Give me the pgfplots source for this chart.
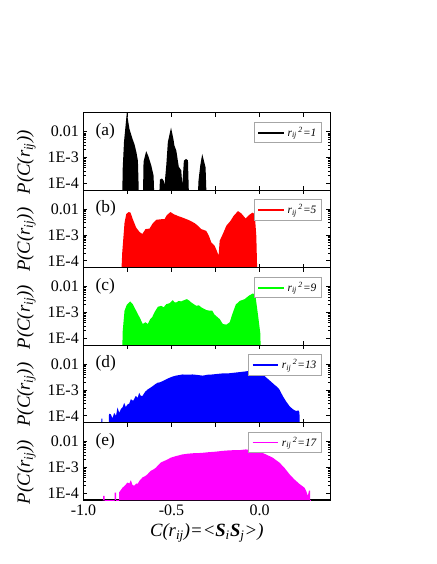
\documentclass[border=0pt]{standalone}
\usepackage{fontspec}
\setmainfont{Liberation Serif}
\usepackage{pgfplots}
\pgfplotsset{compat=1.18}
\definecolor{pmag}{RGB}{255,0,255}
\definecolor{pgreen}{RGB}{0,255,0}
\definecolor{pblue}{RGB}{0,0,255}
\definecolor{pred}{RGB}{255,0,0}
\pgfplotsset{
  legend image code/.code={\draw[#1, line width=1.4pt] (0cm,0cm) -- (0.68cm,0cm);},
  every axis/.append style={
    scale only axis, width=185pt, height=58.1pt,
    xmin=-1, xmax=0.4,
    ymin=5.5e-5, ymax=5.5e-2,
    xtick={-1,-0.75,-0.5,-0.25,0,0.25},
    ytick={1e-4,1e-3,1e-2},
    yticklabels={1E-4,1E-3,0.01},
    tick align=inside,
    major tick length=3pt, minor tick length=1.8pt,
    axis line style={line width=0.8pt},
    tick style={black, line width=0.6pt},
    tick label style={font=\fontsize{12}{14}\selectfont},
  },
  every axis legend/.append style={at={(axis description cs:0.968,0.88)}, anchor=north east,
      draw=gray!70, line width=0.8pt, inner xsep=2pt, inner ysep=1.5pt,
      font=\fontsize{8.5}{10}\selectfont\itshape},
  myylab/.style={every axis y label/.style={at={(axis description cs:-0.232,0.36)}, rotate=90, anchor=center, font=\fontsize{14}{16}\selectfont}},
}
\tikzset{plabel/.style={anchor=west, font=\fontsize{13}{15}\selectfont}}
\begin{document}
\begin{tikzpicture}
\path[use as bounding box] (0,0) rectangle (327pt,423pt);

% (a)
\begin{axis}[ymode=log, log origin y=infty, anchor=north west, at={(62.6pt,338.5pt)},
  xticklabels={}, myylab, ylabel={\itshape P(C(r\textsubscript{ij}))}]
\addplot[fill=black, draw=none, forget plot] table {
x y
-0.781 1e-6
-0.778 3e-4
-0.770 4e-3
-0.754 5.5e-2
-0.739 1.29e-2
-0.722 5.4e-3
-0.710 3.2e-3
-0.699 1.55e-3
-0.691 7.6e-4
-0.679 1e-6
-0.666 1e-6
-0.659 6.9e-4
-0.644 1.78e-3
-0.631 1.1e-3
-0.615 4.9e-4
-0.602 2.0e-4
-0.591 1e-6
-0.580 1e-6
-0.566 1.4e-4
-0.555 1.55e-4
-0.545 1.3e-4
-0.540 8.5e-5
-0.530 5e-4
-0.521 4e-3
-0.503 1.45e-2
-0.489 5e-3
-0.484 2.95e-3
-0.473 1.86e-3
-0.459 4.4e-4
-0.445 3.2e-4
-0.439 8.5e-5
-0.430 7.6e-4
-0.418 8.9e-4
-0.407 7.8e-4
-0.395 1e-6
-0.361 1e-6
-0.347 1.3e-4
-0.337 5e-4
-0.326 1.38e-3
-0.307 4.2e-4
-0.294 1e-6
} \closedcycle;
\addlegendimage{black}
\addlegendentry{r\textsubscript{ij}\textsuperscript{\,2}=1}
\node[plabel] at (rel axis cs:0.03,0.76) {(a)};
\end{axis}

% (b)
\begin{axis}[ymode=log, log origin y=infty, anchor=north west, at={(62.6pt,280.4pt)},
  xticklabels={}, myylab, ylabel={\itshape P(C(r\textsubscript{ij}))}]
\addplot[fill=pred, draw=none, forget plot] table {
x y
-0.795 1e-6
-0.780 2.1e-4
-0.767 3.0e-3
-0.757 6.5e-3
-0.744 7.8e-3
-0.733 7.4e-3
-0.720 4.1e-3
-0.701 1.95e-3
-0.682 1.32e-3
-0.666 1.1e-3
-0.648 1.7e-3
-0.625 1.78e-3
-0.606 2.9e-3
-0.587 3.9e-3
-0.559 4.1e-3
-0.540 4.1e-3
-0.527 5.9e-3
-0.506 7.8e-3
-0.489 6.5e-3
-0.464 5.5e-3
-0.436 4.7e-3
-0.398 3.7e-3
-0.369 2.9e-3
-0.351 2.3e-3
-0.331 1.7e-3
-0.303 1.45e-3
-0.288 9.3e-4
-0.274 5.1e-4
-0.256 3.9e-4
-0.243 2.45e-4
-0.233 1.6e-4
-0.227 6.0e-4
-0.209 1.1e-3
-0.189 2.3e-3
-0.166 3.5e-3
-0.148 5.5e-3
-0.123 8.5e-3
-0.104 6.9e-3
-0.080 4.4e-3
-0.061 5.9e-3
-0.041 7.4e-3
-0.028 6.5e-3
-0.019 9.3e-4
-0.008 1e-6
} \closedcycle;
\addlegendimage{pred}
\addlegendentry{r\textsubscript{ij}\textsuperscript{\,2}=5}
\node[plabel] at (rel axis cs:0.03,0.76) {(b)};
\end{axis}

% (c)
\begin{axis}[ymode=log, log origin y=infty, anchor=north west, at={(62.6pt,222.3pt)},
  xticklabels={}, myylab, ylabel={\itshape P(C(r\textsubscript{ij}))}]
\addplot[fill=pgreen, draw=none, forget plot] table {
x y
-0.786 1e-6
-0.777 2.0e-4
-0.767 1.17e-3
-0.754 2.0e-3
-0.735 2.7e-3
-0.720 2.1e-3
-0.701 1.17e-3
-0.682 6.6e-4
-0.663 3.6e-4
-0.648 4.2e-4
-0.635 3.6e-4
-0.621 5.6e-4
-0.610 6.6e-4
-0.597 1.02e-3
-0.578 1.66e-3
-0.559 1.82e-3
-0.545 1.6e-3
-0.530 2.1e-3
-0.511 2.3e-3
-0.493 3.0e-3
-0.483 2.5e-3
-0.473 2.45e-3
-0.460 2.8e-3
-0.445 2.7e-3
-0.430 3.0e-3
-0.413 3.3e-3
-0.400 2.9e-3
-0.388 2.45e-3
-0.360 1.82e-3
-0.345 1.9e-3
-0.331 1.58e-3
-0.303 1.26e-3
-0.284 1.17e-3
-0.270 1.2e-3
-0.256 8.3e-4
-0.227 5.6e-4
-0.209 3.6e-4
-0.189 3.4e-4
-0.170 4.2e-4
-0.155 8.7e-4
-0.136 2.0e-3
-0.114 2.8e-3
-0.085 3.3e-3
-0.061 4.5e-3
-0.038 5.5e-3
-0.024 4.5e-3
-0.010 8.7e-4
0.004 1.5e-4
0.010 1e-6
} \closedcycle;
\addlegendimage{pgreen}
\addlegendentry{r\textsubscript{ij}\textsuperscript{\,2}=9}
\node[plabel] at (rel axis cs:0.03,0.76) {(c)};
\end{axis}

% (d)
\begin{axis}[ymode=log, log origin y=infty, anchor=north west, at={(62.6pt,164.2pt)},
  xticklabels={}, myylab, ylabel={\itshape P(C(r\textsubscript{ij}))}]
\addplot[fill=pblue, draw=none, forget plot] table {
x y
-0.900 1e-6
-0.899 7.8e-5
-0.893 7.8e-5
-0.892 1e-6
-0.858 1e-6
-0.855 1.2e-4
-0.845 1.15e-4
-0.835 8e-5
-0.826 1.3e-4
-0.815 1.0e-4
-0.807 2.1e-4
-0.797 1.3e-4
-0.788 1.8e-4
-0.777 2.2e-4
-0.769 3.2e-4
-0.760 2.2e-4
-0.750 2.75e-4
-0.740 3.0e-4
-0.731 4.4e-4
-0.718 3.8e-4
-0.703 5.9e-4
-0.692 5.0e-4
-0.684 7.8e-4
-0.675 6.0e-4
-0.665 5.9e-4
-0.650 8.5e-4
-0.636 1.05e-3
-0.622 1.2e-3
-0.608 1.4e-3
-0.594 1.65e-3
-0.580 1.9e-3
-0.565 2.0e-3
-0.551 2.2e-3
-0.530 2.6e-3
-0.513 2.95e-3
-0.495 3.3e-3
-0.476 3.6e-3
-0.455 3.8e-3
-0.438 4.0e-3
-0.410 3.9e-3
-0.381 4.0e-3
-0.350 3.8e-3
-0.324 3.6e-3
-0.295 3.9e-3
-0.267 4.0e-3
-0.240 4.2e-3
-0.210 4.4e-3
-0.180 4.4e-3
-0.153 4.6e-3
-0.130 4.8e-3
-0.106 5.0e-3
-0.085 5.2e-3
-0.068 5.4e-3
-0.040 4.9e-3
-0.020 4.7e-3
-0.002 4.4e-3
0.027 3.5e-3
0.055 2.4e-3
0.084 1.6e-3
0.100 1.3e-3
0.112 1.05e-3
0.131 5.9e-4
0.149 3.7e-4
0.169 2.4e-4
0.188 1.8e-4
0.206 1.55e-4
0.222 1.6e-4
0.226 1.3e-4
0.230 1e-6
} \closedcycle;
\addlegendimage{pblue}
\addlegendentry{r\textsubscript{ij}\textsuperscript{\,2}=13}
\node[plabel] at (rel axis cs:0.03,0.76) {(d)};
\end{axis}

% (e)
\begin{axis}[ymode=log, log origin y=infty, anchor=north west, at={(62.6pt,106.1pt)},
  myylab, ylabel={\itshape P(C(r\textsubscript{ij}))},
  xticklabels={-1.0,,-0.5,,0.0,},
  xlabel={\itshape C(r\textsubscript{ij})=<\textbf{S}\textsubscript{i}\textbf{S}\textsubscript{j}>)},
  xlabel style={at={(axis description cs:0.5,-0.42)}, anchor=center, font=\fontsize{14}{16}\selectfont}]
\addplot[fill=pmag, draw=none, forget plot] table {
x y
-0.890 1e-6
-0.888 7.9e-5
-0.880 7.9e-5
-0.878 1e-6
-0.825 1e-6
-0.823 1.07e-4
-0.815 1.07e-4
-0.813 1e-6
-0.800 1e-6
-0.797 1.1e-4
-0.778 1.66e-4
-0.765 2.0e-4
-0.750 2.6e-4
-0.740 2.4e-4
-0.731 3.2e-4
-0.722 2.1e-4
-0.712 1.95e-4
-0.700 2.4e-4
-0.693 2.3e-4
-0.680 3.2e-4
-0.665 4.1e-4
-0.650 4.6e-4
-0.636 5.5e-4
-0.618 7.4e-4
-0.605 8.2e-4
-0.589 9.8e-4
-0.575 1.25e-3
-0.561 1.55e-3
-0.545 1.75e-3
-0.532 1.9e-3
-0.504 2.4e-3
-0.476 2.75e-3
-0.438 3.2e-3
-0.410 3.4e-3
-0.381 3.55e-3
-0.350 3.6e-3
-0.324 3.7e-3
-0.290 3.9e-3
-0.248 4.1e-3
-0.210 4.4e-3
-0.172 4.6e-3
-0.140 4.7e-3
-0.115 4.7e-3
-0.078 5.0e-3
-0.040 4.6e-3
-0.002 4.1e-3
0.036 3.2e-3
0.074 2.4e-3
0.112 1.55e-3
0.140 9.8e-4
0.169 5.5e-4
0.196 3.5e-4
0.226 2.3e-4
0.254 1.66e-4
0.265 1.2e-4
0.273 7.9e-5
0.280 1.26e-4
0.286 1.26e-4
0.290 1e-6
} \closedcycle;
\addlegendimage{pmag}
\addlegendentry{r\textsubscript{ij}\textsuperscript{\,2}=17}
\node[plabel] at (rel axis cs:0.03,0.76) {(e)};
\end{axis}
\end{tikzpicture}
\end{document}
